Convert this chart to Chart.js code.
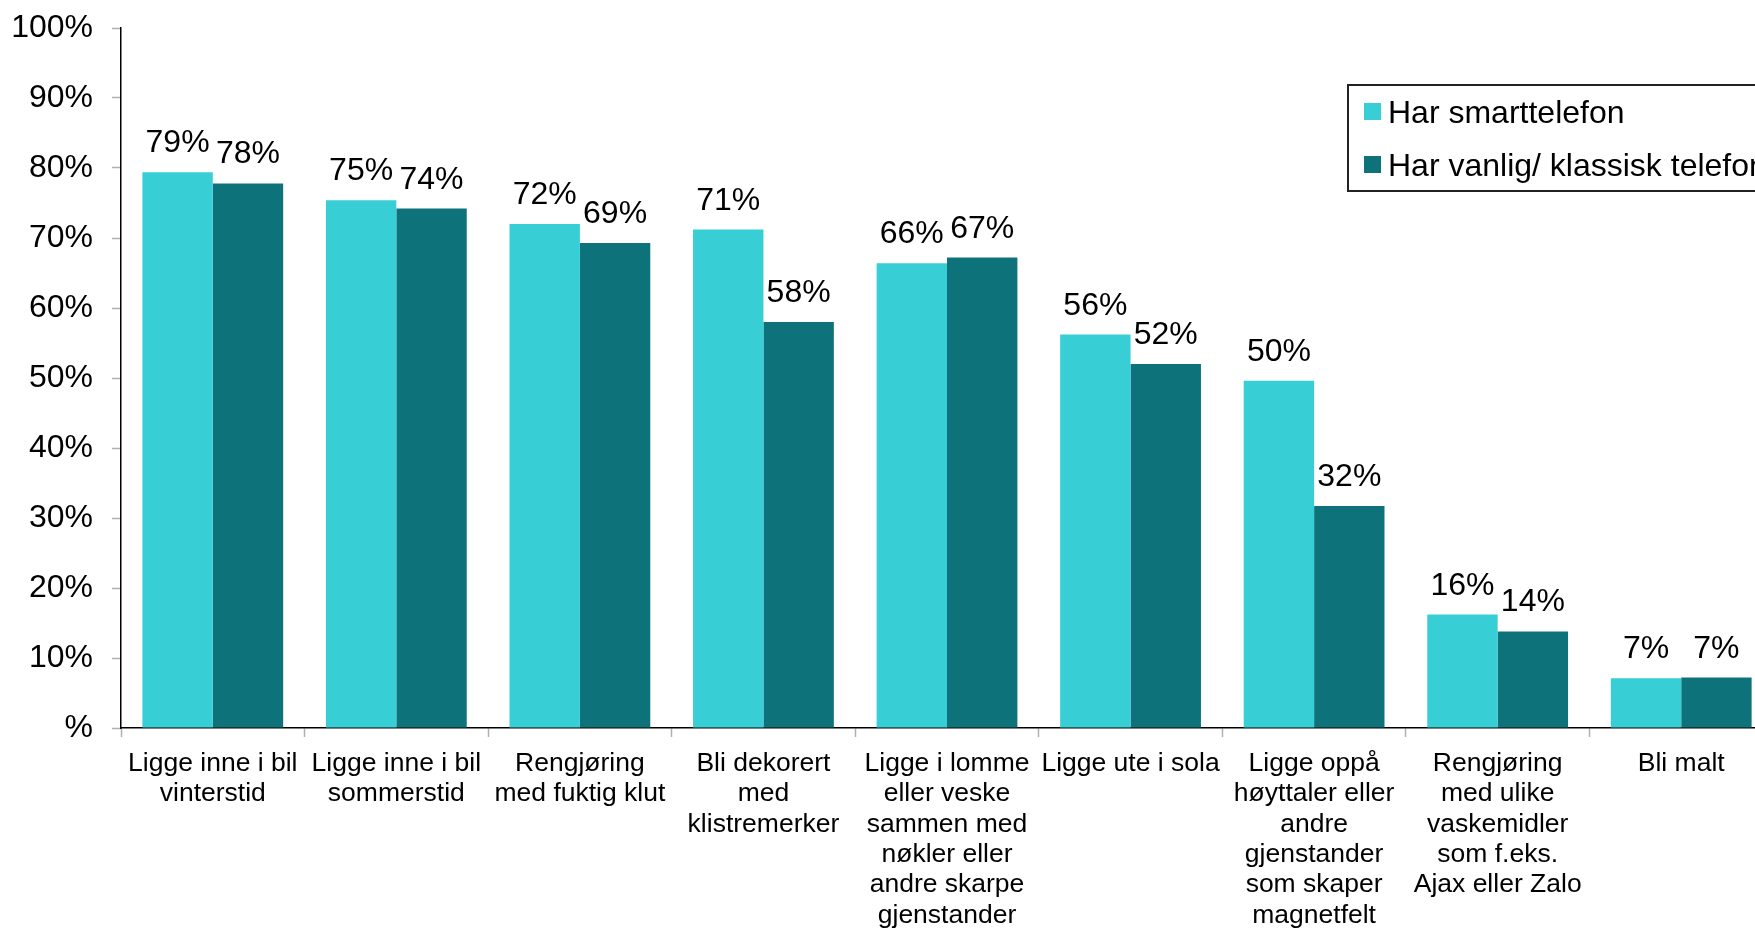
<!DOCTYPE html>
<html>
<head>
<meta charset="utf-8">
<script src="https://cdn.jsdelivr.net/npm/chart.js@4/dist/chart.umd.min.js"></script>
<style>
  html, body { margin: 0; padding: 0; overflow: hidden; background: #fff; }
  #wrap { width: 1775px; height: 928px; position: relative; }
</style>
</head>
<body>
<div id="wrap"><canvas id="graph"></canvas></div>
<script>
const categories = [
  ["Ligge inne i bil", "vinterstid"],
  ["Ligge inne i bil", "sommerstid"],
  ["Rengjøring", "med fuktig klut"],
  ["Bli dekorert", "med", "klistremerker"],
  ["Ligge i lomme", "eller veske", "sammen med", "nøkler eller", "andre skarpe", "gjenstander"],
  ["Ligge ute i sola"],
  ["Ligge oppå", "høyttaler eller", "andre", "gjenstander", "som skaper", "magnetfelt"],
  ["Rengjøring", "med ulike", "vaskemidler", "som f.eks.", "Ajax eller Zalo"],
  ["Bli malt"]
]
const seriesNames = ["Har smarttelefon", "Har vanlig/ klassisk telefon"]
const smartValues = [79.4, 75.4, 72.0, 71.2, 66.4, 56.2, 49.6, 16.2, 7.1]
const classicValues = [77.8, 74.2, 69.3, 58.0, 67.2, 52.0, 31.7, 13.8, 7.2]
const yTicks = [0, 10, 20, 30, 40, 50, 60, 70, 80, 90, 100]

const colors = ['#38ced6', '#0e727b']
const font = "'Liberation Sans', Arial, sans-serif"

// value labels above each bar
const valueLabels = {
  id: 'valueLabels',
  afterDatasetsDraw(chart) {
    const ctx = chart.ctx
    ctx.save()
    ctx.font = '32px ' + font
    ctx.fillStyle = '#000'
    ctx.textAlign = 'center'
    ctx.textBaseline = 'alphabetic'
    chart.data.datasets.forEach((ds, i) => {
      chart.getDatasetMeta(i).data.forEach((bar, j) => {
        ctx.fillText(Math.round(ds.data[j]) + '%', bar.x, bar.y - 20)
      })
    })
    ctx.restore()
  }
}

// boxed legend in the upper right, partly cut off like the original
const boxLegend = {
  id: 'boxLegend',
  afterDraw(chart) {
    const ctx = chart.ctx
    const x = 1348, y = 85
    ctx.save()
    ctx.fillStyle = '#fff'
    ctx.fillRect(x, y, 500, 106)
    ctx.strokeStyle = '#222'
    ctx.lineWidth = 2
    ctx.strokeRect(x, y, 500, 106)
    ctx.font = '32px ' + font
    ctx.textBaseline = 'alphabetic'
    seriesNames.forEach((name, i) => {
      const cy = y + 26 + i * 53
      ctx.fillStyle = colors[i]
      ctx.fillRect(x + 16, cy - 8, 17, 17)
      ctx.fillStyle = '#000'
      ctx.fillText(name, x + 40, cy + 12)
    })
    ctx.restore()
  }
}

new Chart(document.getElementById('graph'), {
  type: 'bar',
  data: {
    labels: categories,
    datasets: [
      { label: seriesNames[0], data: smartValues, backgroundColor: colors[0] },
      { label: seriesNames[1], data: classicValues, backgroundColor: colors[1] }
    ]
  },
  options: {
    responsive: true,
    maintainAspectRatio: false,
    animation: false,
    layout: { padding: { top: 28, right: 2, left: 0, bottom: 0 } },
    datasets: { bar: { categoryPercentage: 0.767, barPercentage: 1 } },
    plugins: {
      legend: { display: false },
      tooltip: { enabled: false }
    },
    scales: {
      x: {
        grid: { display: true, drawOnChartArea: false, drawTicks: true, tickLength: 9, tickColor: '#b0b0b0', tickWidth: 1.5 },
        border: { display: true, color: '#000', width: 1.5 },
        ticks: { color: '#000', font: { family: font, size: 26.5, lineHeight: 1.15 }, padding: 11, maxRotation: 0, autoSkip: false },
        afterFit(scale) {
          scale.height = 200
          scale.paddingLeft = 0
          scale.paddingRight = 0
        }
      },
      y: {
        min: 0,
        max: 100,
        afterBuildTicks(scale) { scale.ticks = yTicks.map(v => ({ value: v })) },
        grid: { display: true, drawOnChartArea: false, drawTicks: true, tickLength: 9, tickColor: '#b0b0b0', tickWidth: 1.5 },
        border: { display: true, color: '#000', width: 1.5 },
        ticks: {
          color: '#000',
          font: { family: font, size: 32 },
          padding: 19,
          callback: v => v === 0 ? '%' : v + '%'
        },
        afterFit(scale) {
          scale.width = 121
          scale.paddingTop = 0
          scale.paddingBottom = 0
        }
      }
    }
  },
  plugins: [valueLabels, boxLegend]
})
</script>
</body>
</html>
